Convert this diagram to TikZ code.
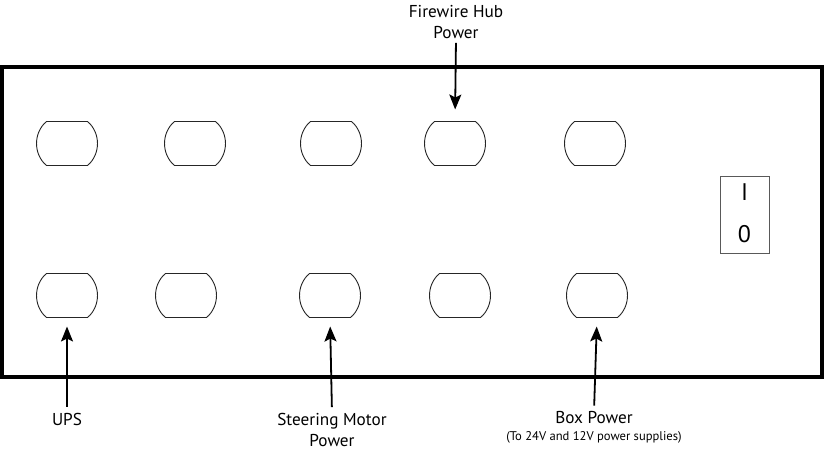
\documentclass[tikz,border=0pt]{standalone}
\usepackage{fontspec}
\setmainfont{PT Sans}
\usetikzlibrary{arrows.meta,calc}
\begin{document}
\begin{tikzpicture}[x=1pt,y=-1pt,
  port/.style={minimum width=60pt,minimum height=44pt,inner sep=0pt,outer sep=0pt},
  portline/.style={draw=black!85,line width=0.9pt},
  frame/.style={draw=black,line width=4pt},
  arr/.style={draw=black,line width=1.8pt,-{Stealth[length=15pt,width=12pt,inset=3pt]}},
  lbl/.style={font=\fontsize{17.2}{21}\selectfont,align=center,inner sep=0pt},
  smalllbl/.style={font=\fontsize{12.6}{14}\selectfont,inner sep=0pt},
  switchbox/.style={draw=black!65,line width=1pt,minimum width=49pt,minimum height=77pt,inner sep=0pt},
  switchtxt/.style={font=\fontsize{24}{26}\selectfont,inner sep=0pt}]
\useasboundingbox (0,0) rectangle (825,460);
\node[frame,minimum width=820pt,minimum height=309.5pt,inner sep=0pt,outer sep=0pt] (box) at (412,221.75) {};
% ports
\foreach \nm/\x/\y in {t1/67/143.5,t2/195/143.5,t3/331/143.5,t4/455/143.5,t5/595/143.5,
                       b1/67/295.5,b2/186/295.5,b3/330/295.5,b4/460/295.5,b5/597/295.5}{
  \node[port] (\nm) at (\x,\y) {};
  \draw[portline] ($(\nm.north)+(-20.5,0)$) -- ++(41,0)
     .. controls +(13.3,11) and +(13.3,-11) .. ++(0,44)
     -- ++(-41,0)
     .. controls +(-13.3,-11) and +(-13.3,11) .. ++(0,-44) -- cycle;
}
% switch
\node[switchbox] (sw) at (744.5,214.5) {};
\node[switchtxt] (swI) at (744.5,192) {I};
\node[switchtxt] (sw0) at (744.5,234) {0};
% labels
\node[lbl] (fw) at (456,22) {Firewire Hub\\Power};
\node[lbl] (ups) at (67,419) {UPS};
\node[lbl] (steer) at (332,430) {Steering Motor\\Power};
\node[lbl] (boxp) at (594,418) {Box Power};
\node[smalllbl] (boxs) at (594,437) {(To 24V and 12V power supplies)};
% arrows
\draw[arr,shorten <=4pt,shorten >=12pt] (fw.south) -- (t4.north);
\draw[arr,shorten <=6pt,shorten >=9pt] (ups.north) -- (b1.south);
\draw[arr,shorten <=6pt,shorten >=9pt] (steer.north) -- (b3.south);
\draw[arr,shorten <=6pt,shorten >=9pt] (boxp.north) -- (b5.south);
\end{tikzpicture}
\end{document}
